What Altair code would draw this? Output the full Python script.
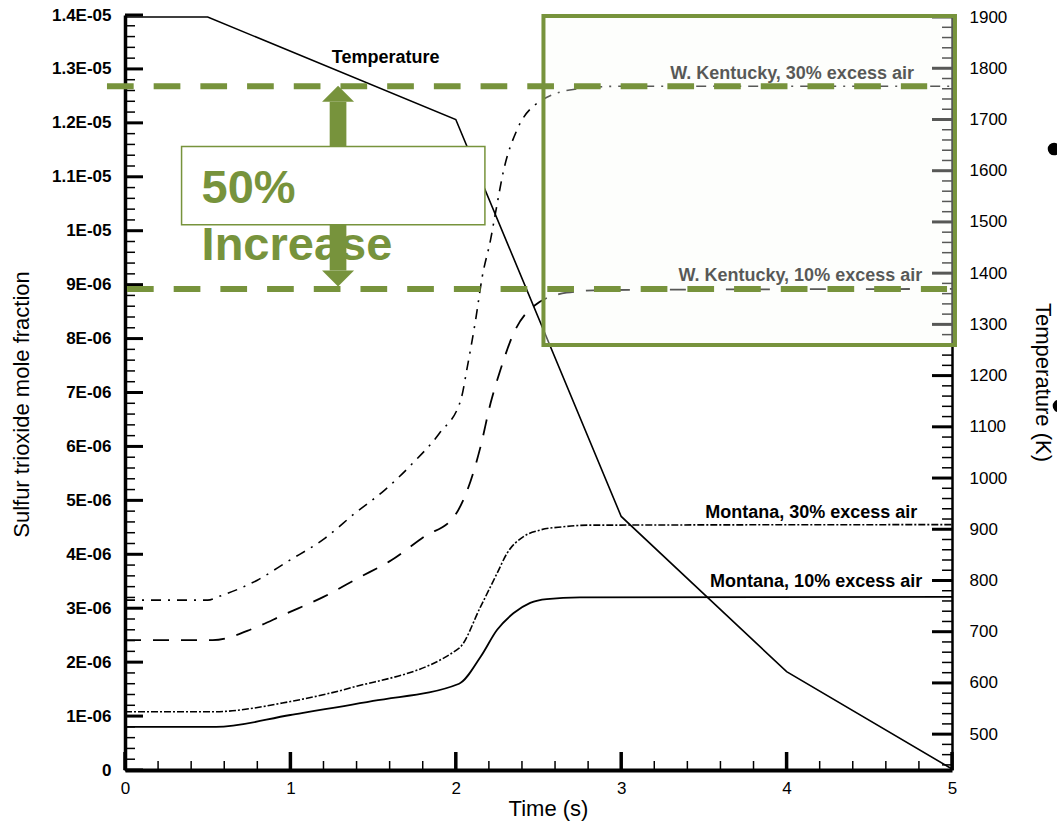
import altair as alt
import pandas as pd

GREEN = "#77933C"
FONT = "Liberation Sans"

# ---------------- data ----------------
# Temperature (K), right axis
temp_t = [0.0, 0.5, 2.0, 3.0, 4.0, 5.0]
temp_k = [1900, 1900, 1700, 925, 622, 432]

# SO3 mole fraction, in units of 1E-06 (left axis)
mt10_t = [0.0, 0.55, 1.0, 1.5, 2.02, 2.15, 2.25, 2.35, 2.45, 2.55, 2.75, 5.0]
mt10_v = [0.80, 0.80, 1.02, 1.28, 1.60, 2.10, 2.60, 2.91, 3.10, 3.17, 3.20, 3.21]

mt30_t = [0.0, 0.53, 1.0, 1.36, 2.02, 2.15, 2.25, 2.31, 2.41, 2.51, 2.65, 2.8, 5.0]
mt30_v = [1.08, 1.08, 1.27, 1.52, 2.26, 3.03, 3.65, 4.02, 4.33, 4.45, 4.51, 4.54, 4.55]

wk10_t = [0.0, 0.53, 0.78, 0.96, 1.2, 1.41, 1.61, 1.81, 1.99, 2.07, 2.15, 2.21, 2.27, 2.35, 2.47, 2.67, 2.9, 5.0]
wk10_v = [2.41, 2.41, 2.63, 2.88, 3.21, 3.56, 3.89, 4.33, 4.70, 5.19, 6.0, 6.8, 7.42, 8.1, 8.6, 8.85, 8.9, 8.92]

wk30_t = [0.0, 0.5, 0.57, 0.8, 0.98, 1.21, 1.39, 1.57, 1.74, 1.9, 2.03, 2.07, 2.12, 2.16, 2.21, 2.24, 2.29, 2.37, 2.47, 2.71, 3.0, 5.0]
wk30_v = [3.15, 3.15, 3.22, 3.52, 3.86, 4.30, 4.76, 5.19, 5.69, 6.24, 6.86, 7.48, 8.35, 9.15, 9.83, 10.33, 11.13, 11.87, 12.31, 12.62, 12.68, 12.68]

left_tick_labels = ["0", "1E-06", "2E-06", "3E-06", "4E-06", "5E-06", "6E-06", "7E-06",
                    "8E-06", "9E-06", "1E-05", "1.1E-05", "1.2E-05", "1.3E-05", "1.4E-05"]
x_tick_values = [0, 1, 2, 3, 4, 5]
right_tick_values = list(range(500, 2000, 100))

series_labels = ["W. Kentucky, 30% excess air", "W. Kentucky, 10% excess air",
                 "Montana, 30% excess air", "Montana, 10% excess air"]
series_label_t = [4.77, 4.82, 4.79, 4.82]
series_label_v = [12.82, 9.06, 4.67, 3.40]

# annotation values
level_hi = 12.68
level_lo = 8.92

# ---------------- scales ----------------
XS = alt.Scale(domain=[0, 5], nice=False, zero=False)
YL = alt.Scale(domain=[0, 14], nice=False, zero=False)
YR = alt.Scale(domain=[430, 1904], nice=False, zero=False)

W, H = 827, 755

X_AXIS = alt.Axis(
    values=x_tick_values, format="d", ticks=False, grid=False,
    domainColor="black", domainWidth=4,
    labelFont=FONT, labelFontSize=17, labelColor="black", labelPadding=10, labelFlush=False,
    title="Time (s)", titleFont=FONT, titleFontSize=22, titleFontWeight="normal",
    titleColor="black", titleX=423, titleY=45, titleBaseline="alphabetic")


def xenc(field="t"):
    return alt.X(f"{field}:Q", scale=XS, axis=X_AXIS, title="Time (s)")


def yenc(field="v"):
    return alt.Y(f"{field}:Q", scale=YL, axis=None)


label_expr = "[" + ",".join(f"'{s}'" for s in left_tick_labels) + "][round(datum.value)]"

# ---------------- series lines ----------------
mt10 = pd.DataFrame({"t": mt10_t, "v": mt10_v})
mt30 = pd.DataFrame({"t": mt30_t, "v": mt30_v})
wk10 = pd.DataFrame({"t": wk10_t, "v": wk10_v})
wk30 = pd.DataFrame({"t": wk30_t, "v": wk30_v})
temp = pd.DataFrame({"t": temp_t, "T": temp_k})

line_mt10 = alt.Chart(mt10).mark_line(color="black", strokeWidth=1.8, interpolate="monotone").encode(
    x=xenc(),
    y=alt.Y("v:Q", scale=YL, axis=alt.Axis(
        values=list(range(15)), labelExpr=label_expr, ticks=False, grid=False,
        domainColor="black", domainWidth=3.5,
        labelFont=FONT, labelFontSize=17, labelFontWeight="bold", labelColor="black", labelPadding=14,
        labelFlush=False,
        title="Sulfur trioxide mole fraction", titleFont=FONT, titleFontSize=22,
        titleFontWeight="normal", titleColor="black", titleAngle=-90,
        titleX=-97, titleY=389, titleBaseline="alphabetic", titleAlign="center")),
)

line_mt30 = alt.Chart(mt30).mark_line(color="black", strokeWidth=1.6, interpolate="monotone",
                                      strokeDash=[7, 2, 2, 2]).encode(x=xenc(), y=yenc())
line_wk10 = alt.Chart(wk10).mark_line(color="black", strokeWidth=1.8, interpolate="monotone",
                                      strokeDash=[16, 12]).encode(x=xenc(), y=yenc())
line_wk30 = alt.Chart(wk30).mark_line(color="black", strokeWidth=1.6, interpolate="monotone",
                                      strokeDash=[10, 7, 2, 7]).encode(x=xenc(), y=yenc())

line_temp = alt.Chart(temp).mark_line(color="black", strokeWidth=1.6).encode(
    x=xenc(),
    y=alt.Y("T:Q", scale=YR, axis=alt.Axis(
        orient="right", values=right_tick_values, format="d", ticks=False, grid=False,
        domainColor="black", domainWidth=2.5,
        labelFont=FONT, labelFontSize=17, labelColor="black", labelPadding=17, labelFlush=False,
        title="Temperature (K)", titleFont=FONT, titleFontSize=22, titleFontWeight="normal",
        titleColor="black", titleAngle=90, titleX=83, titleY=367,
        titleBaseline="alphabetic", titleAlign="center")),
)

# ---------------- inward tick marks ----------------
left_major = pd.DataFrame({"v": list(range(15))})
left_minor = pd.DataFrame({"v": [i / 5 for i in range(71) if i % 5 != 0]})
bot_major = pd.DataFrame({"t": x_tick_values})
bot_minor = pd.DataFrame({"t": [i / 5 for i in range(26) if i % 5 != 0]})
right_major = pd.DataFrame({"T": right_tick_values})
right_minor = pd.DataFrame({"T": [v for v in range(440, 1900, 20) if v % 100 != 0]})

tk_lmaj = alt.Chart(left_major).mark_rule(color="black", strokeWidth=3).encode(
    y=yenc(), x=alt.value(0), x2=alt.value(18))
tk_lmin = alt.Chart(left_minor).mark_rule(color="black", strokeWidth=1.5).encode(
    y=yenc(), x=alt.value(0), x2=alt.value(10))
tk_bmaj = alt.Chart(bot_major).mark_rule(color="black", strokeWidth=3.5).encode(
    x=xenc(), y=alt.value(H), y2=alt.value(H - 18))
tk_bmin = alt.Chart(bot_minor).mark_rule(color="black", strokeWidth=1.5).encode(
    x=xenc(), y=alt.value(H), y2=alt.value(H - 9))
tk_rmaj = alt.Chart(right_major).mark_rule(color="black", strokeWidth=3).encode(
    y=alt.Y("T:Q", scale=YR, axis=None), x=alt.value(W), x2=alt.value(W - 20))
tk_rmin = alt.Chart(right_minor).mark_rule(color="black", strokeWidth=1.5).encode(
    y=alt.Y("T:Q", scale=YR, axis=None), x=alt.value(W), x2=alt.value(W - 10))

# ---------------- series labels ----------------
lab_df = pd.DataFrame({"t": series_label_t, "v": series_label_v, "text": series_labels})
labels = alt.Chart(lab_df).mark_text(font=FONT, fontSize=18, fontWeight="bold", color="black",
                                     align="right", baseline="alphabetic").encode(
    x=xenc(), y=yenc(), text="text:N")

temp_lab = alt.Chart(pd.DataFrame({"t": [1.25], "v": [13.11], "text": ["Temperature"]})).mark_text(
    font=FONT, fontSize=18, fontWeight="bold", color="black", align="left", baseline="alphabetic"
).encode(x=xenc(), y=yenc(), text="text:N")

# ---------------- annotations ----------------
big_box = alt.Chart(pd.DataFrame({"t": [2.530], "t2": [5.018], "v": [13.98], "v2": [7.88]})).mark_rect(
    fill="#FAFBF6", fillOpacity=0.35, stroke=GREEN, strokeWidth=4, strokeOpacity=1
).encode(x=xenc(), x2="t2:Q", y=yenc(), y2="v2:Q")

dash_df = pd.DataFrame({"t": [-0.109, 0.012], "t2": [4.85, 4.97], "v": [level_hi, level_lo]})
dashes = alt.Chart(dash_df).mark_rule(color=GREEN, strokeWidth=6, strokeDash=[26.7, 20],
                                      strokeCap="butt").encode(x=xenc(), x2="t2:Q", y=yenc())

increase_txt = alt.Chart(pd.DataFrame({"t": [0.463], "v": [9.46], "text": ["Increase"]})).mark_text(
    font=FONT, fontSize=47, fontWeight="bold", color=GREEN, align="left", baseline="alphabetic"
).encode(x=xenc(), y=yenc(), text="text:N")

shaft = alt.Chart(pd.DataFrame({"t": [1.288], "v": [12.39], "v2": [9.26]})).mark_rule(
    color=GREEN, strokeWidth=16.7, strokeCap="butt").encode(x=xenc(), y=yenc(), y2="v2:Q")

head_up = alt.Chart(pd.DataFrame({"t": [1.288], "v": [12.39]})).mark_point(
    shape="M0,-1L1,0L-1,0Z", size=1024, filled=True, color=GREEN, opacity=1, strokeWidth=0
).encode(x=xenc(), y=yenc())
head_dn = alt.Chart(pd.DataFrame({"t": [1.288], "v": [9.26]})).mark_point(
    shape="M0,1L1,0L-1,0Z", size=1024, filled=True, color=GREEN, opacity=1, strokeWidth=0
).encode(x=xenc(), y=yenc())

text_box = alt.Chart(pd.DataFrame({"t": [0.342], "t2": [2.176], "v": [11.56], "v2": [10.11]})).mark_rect(
    fill="white", stroke=GREEN, strokeWidth=1.5
).encode(x=xenc(), x2="t2:Q", y=yenc(), y2="v2:Q")

pct_txt = alt.Chart(pd.DataFrame({"t": [0.463], "v": [10.51], "text": ["50%"]})).mark_text(
    font=FONT, fontSize=47, fontWeight="bold", color=GREEN, align="left", baseline="alphabetic"
).encode(x=xenc(), y=yenc(), text="text:N")

bullets = alt.Chart(pd.DataFrame({"t": [5.617, 5.647], "v": [11.515, 6.75]})).mark_point(
    shape="circle", size=160, filled=True, color="black", opacity=1
).encode(x=xenc(), y=yenc())

chart = alt.layer(
    line_mt10, line_mt30, line_wk10, line_wk30, line_temp,
    tk_lmaj, tk_lmin, tk_bmaj, tk_bmin, tk_rmaj, tk_rmin,
    labels, temp_lab,
    big_box, dashes,
    increase_txt, shaft, head_up, head_dn, text_box, pct_txt,
    bullets,
).resolve_scale(y="independent").properties(
    width=W, height=H,
    autosize=alt.AutoSizeParams(type="none"),
    padding={"left": 125, "top": 15, "right": 105, "bottom": 55},
    background="white",
).configure_view(stroke=None)

chart.save("out.html", embed_options={"renderer": "svg", "actions": False})
